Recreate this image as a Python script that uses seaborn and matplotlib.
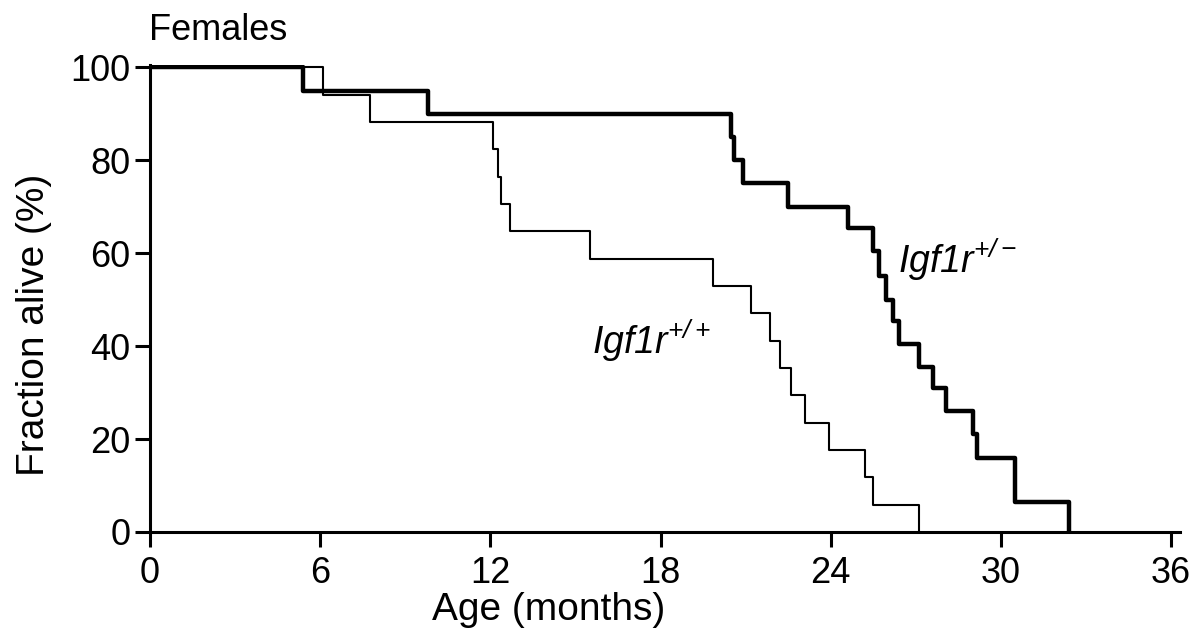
import pandas as pd
import matplotlib.pyplot as plt
import seaborn as sns

# Igf1r+/+ (thin line): death times (months) and fraction alive after each step
wt_months = [0, 6.1, 7.75, 12.08, 12.26, 12.37, 12.7, 15.5, 19.85, 21.2, 21.85,
             22.2, 22.6, 23.1, 23.95, 25.2, 25.5, 27.1]
wt_alive = [100, 94.1, 88.2, 82.4, 76.5, 70.6, 64.7, 58.8, 52.9, 47.1, 41.2,
            35.3, 29.4, 23.5, 17.6, 11.8, 5.9, 0]

# Igf1r+/- (thick line)
het_months = [0, 5.4, 9.8, 20.5, 20.6, 20.9, 22.5, 24.6, 25.5, 25.7, 25.95,
              26.2, 26.4, 27.1, 27.6, 28.05, 29.0, 29.15, 30.5, 32.4]
het_alive = [100, 95, 90, 85, 80, 75, 70, 65.5, 60.5, 55, 50, 45.5, 40.5,
             35.5, 31, 26, 21, 16, 6.5, 0]

x_ticks = [0, 6, 12, 18, 24, 30, 36]
y_ticks = [0, 20, 40, 60, 80, 100]

sns.set_style("ticks")
plt.rcParams["font.family"] = ["Liberation Sans", "DejaVu Sans"]
plt.rcParams["text.color"] = "black"
plt.rcParams["axes.labelcolor"] = "black"
# italic everywhere inside the gene labels, digits and signs included
plt.rcParams["mathtext.fontset"] = "custom"
plt.rcParams["mathtext.rm"] = "Liberation Sans:italic"
plt.rcParams["mathtext.it"] = "Liberation Sans:italic"

wt = pd.DataFrame({"month": wt_months, "alive": wt_alive})
het = pd.DataFrame({"month": het_months, "alive": het_alive})

fig = plt.figure(figsize=(12, 6.31), dpi=100)
ax = fig.add_axes([0.125, 0.157, 0.858, 0.74])

sns.lineplot(data=wt, x="month", y="alive", ax=ax, color="black",
             linewidth=1.5, drawstyle="steps-post", estimator=None)
sns.lineplot(data=het, x="month", y="alive", ax=ax, color="black",
             linewidth=3.2, drawstyle="steps-post", estimator=None)

ax.set_xlim(0, 36.3)
ax.set_ylim(0, 100.5)
ax.set_xticks(x_ticks)
ax.set_yticks(y_ticks)
for s in ["top", "right"]:
    ax.spines[s].set_visible(False)
for s in ["left", "bottom"]:
    ax.spines[s].set_linewidth(2.2)
    ax.spines[s].set_color("black")
ax.tick_params(axis="both", direction="out", length=11, width=2.2,
               labelsize=26, colors="black")
ax.tick_params(axis="x", pad=6)
ax.tick_params(axis="y", pad=3)

ax.set_xlabel("Age (months)", fontsize=28)
ax.set_ylabel("Fraction alive (%)", fontsize=28)
ax.xaxis.set_label_coords(0.387, -0.128)
ax.yaxis.set_label_coords(-0.095, 0.443)

ax.text(26.37, 55.7, r"$\mathrm{Igf1r}^{+/-}$", fontsize=27, ha="left", va="baseline")
ax.text(15.58, 38.3, r"$\mathrm{Igf1r}^{+/+}$", fontsize=27, ha="left", va="baseline")
fig.text(0.124, 0.952, "Females", fontsize=26, ha="left", va="center")

fig.savefig("out.png", dpi=100)
